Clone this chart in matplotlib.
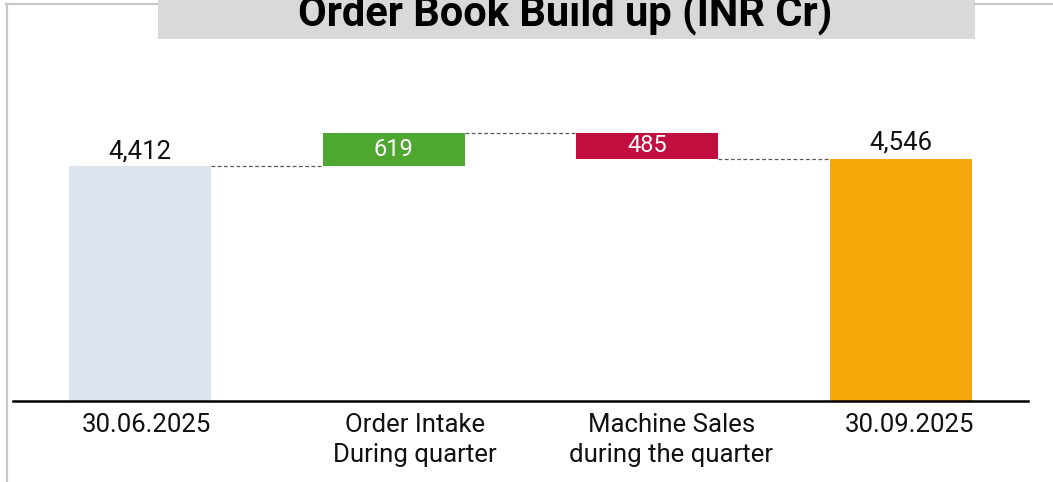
import matplotlib
matplotlib.use("Agg")
import matplotlib.pyplot as plt
from matplotlib.lines import Line2D
from matplotlib.patches import Rectangle
import matplotlib.transforms as mtransforms

# ---- data ----
categories = ["30.06.2025", "Order Intake\nDuring quarter", "Machine Sales\nduring the quarter", "30.09.2025"]
opening = 4412
intake = 619
sales = 485
closing = 4546
title = "Order Book Build up (INR Cr)"

colors = ["#dde4ee", "#4ea72e", "#c20e3e", "#f5a70a"]

plt.rcParams['font.family'] = ['Roboto', 'DejaVu Sans']

W, H = 1053, 482
fig = plt.figure(figsize=(W / 100, H / 100), dpi=100)
fig.patch.set_facecolor("white")

# axes placed in pixel coords
ax_left, ax_right, ax_bottom_px, ax_top_px = 13, 1028, 401, 40
ax = fig.add_axes([ax_left / W, (H - ax_bottom_px) / H,
                   (ax_right - ax_left) / W, (ax_bottom_px - ax_top_px) / H])

x = list(range(len(categories)))
bottoms = [0, opening, opening + intake - sales, 0]
heights = [opening, intake, sales, closing]
width = 0.56
ax.bar(x, heights, bottom=bottoms, width=width, color=colors, zorder=2)

ax.set_xlim(-0.5, 3.5)
ax.set_ylim(0, 6779)

# connectors
levels = [opening, opening + intake, closing]
for i, lvl in enumerate(levels):
    ax.plot([x[i] + width / 2, x[i + 1] - width / 2], [lvl, lvl],
            ls=(0, (3, 2)), color="#595959", lw=0.9, zorder=1)

# labels
ax.annotate(f"{opening:,}", (x[0], opening), xytext=(0, 5.5), textcoords="offset points",
            ha="center", va="baseline", fontsize=18.5, color="#111111")
ax.annotate(f"{closing:,}", (x[3], closing), xytext=(0, 6.5), textcoords="offset points",
            ha="center", va="baseline", fontsize=18.5, color="#111111")
ax.text(x[1], opening + intake / 2, f"{intake:,}", ha="center", va="center",
        fontsize=17, color="white")
ax.text(x[2], opening + intake - sales / 2, f"{sales:,}", ha="center", va="center",
        fontsize=17, color="white")

for s in ["top", "right", "left"]:
    ax.spines[s].set_visible(False)
ax.spines["bottom"].set_linewidth(1.8)
ax.spines["bottom"].set_color("black")
ax.set_yticks([])
ax.set_xticks(x)
ax.set_xticklabels(categories, fontsize=18.5, color="#111111", linespacing=1.3)
ax.tick_params(axis="x", length=0, pad=8.5)
offsets_px = [7, 21, 24, 8]
for lab, off in zip(ax.get_xticklabels(), offsets_px):
    lab.set_transform(lab.get_transform() +
                      mtransforms.ScaledTranslation(off / 100, 0, fig.dpi_scale_trans))

# frame lines (figure pixel coords)
def fx(px):
    return px / W

def fy(py):
    return 1 - py / H

border_c = "#c8c8c8"
fig.add_artist(Line2D([fx(7), fx(7)], [fy(4), fy(482)], color=border_c, lw=1.6))
fig.add_artist(Line2D([fx(6), fx(158)], [fy(4), fy(4)], color=border_c, lw=1.6))
fig.add_artist(Line2D([fx(975), fx(1053)], [fy(4), fy(4)], color=border_c, lw=1.6))

# title box
fig.add_artist(Rectangle((fx(158), fy(39)), fx(975) - fx(158), fy(0) - fy(39),
                         facecolor="#d9d9d9", edgecolor="none", transform=fig.transFigure))
fig.text(fx(565), fy(26), title, ha="center", va="baseline", fontsize=30,
         fontweight="bold", color="black")

fig.savefig("out.png", dpi=100)
